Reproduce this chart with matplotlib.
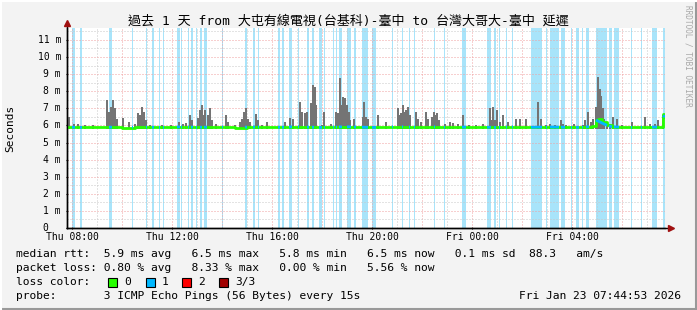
import numpy as np
import matplotlib
matplotlib.use("Agg")
import matplotlib.pyplot as plt

# hours since Thu 00:00
band_start = [8.00, 8.32, 9.48, 10.40, 10.96, 11.20, 11.48, 11.64, 12.20, 12.36, 12.64, 12.76,
              12.96, 13.12, 13.28, 14.00, 14.92, 15.24, 15.44, 16.24, 16.40, 16.68, 17.04, 17.40,
              17.60, 17.88, 18.08, 18.44, 18.56, 18.68, 19.00, 19.28, 19.60, 20.00, 20.80, 21.20,
              21.48, 21.68, 22.48, 22.88, 23.60, 24.60, 24.88, 25.08, 25.36, 25.60, 26.36, 26.96,
              27.12, 27.56, 27.96, 28.16, 28.40, 28.56, 28.96, 29.48, 29.68, 30.36, 30.76, 31.20,
              31.64]
band_end = [8.12, 8.40, 9.60, 10.44, 11.00, 11.28, 11.52, 11.68, 12.32, 12.40, 12.68, 12.84,
            13.00, 13.20, 13.40, 14.04, 15.00, 15.32, 15.48, 16.32, 16.48, 16.80, 17.08, 17.48,
            17.68, 18.00, 18.12, 18.48, 18.60, 18.80, 19.16, 19.36, 19.84, 20.16, 20.84, 21.24,
            21.52, 21.72, 22.52, 22.92, 23.76, 24.76, 24.96, 25.12, 25.40, 25.64, 26.80, 27.00,
            27.48, 27.72, 28.00, 28.28, 28.44, 28.68, 29.40, 29.60, 29.88, 30.40, 30.80, 31.40,
            31.72]

smoke_hours = [7.88, 8.08, 8.24, 8.52, 8.84, 9.40, 9.48, 9.56, 9.64, 9.72, 9.80, 10.04, 10.28,
               10.52, 10.64, 10.72, 10.80, 10.88, 10.96, 11.12, 11.60,
               11.96, 12.28, 12.44, 12.56, 12.72, 12.80, 13.04, 13.12, 13.20, 13.24, 13.32, 13.44,
               13.52, 13.60, 13.76, 14.16, 14.24, 14.52, 14.72, 14.80, 14.88, 14.96, 15.04, 15.12,
               15.36, 15.44, 15.60,
               15.80, 16.52, 16.72, 16.84, 17.12, 17.20, 17.32, 17.40, 17.56, 17.64, 17.72, 17.76,
               18.00, 18.08, 18.36, 18.56, 18.64, 18.72, 18.76, 18.84, 18.92, 19.00, 19.08, 19.12,
               19.28, 19.64,
               19.68, 19.76, 19.84, 20.24, 20.56, 21.04, 21.12, 21.16, 21.24, 21.32, 21.36, 21.44,
               21.52, 21.76, 21.84, 21.96, 22.16, 22.24, 22.40, 22.48, 22.56, 22.60, 22.68, 22.92,
               23.12, 23.24, 23.44, 23.64,
               23.88, 24.16, 24.44, 24.72, 24.76, 24.84, 24.92, 25.00, 25.12, 25.24, 25.44, 25.76,
               25.92, 26.16, 26.64, 26.76, 26.96, 27.12, 27.32, 27.56, 27.64,
               27.76, 28.08, 28.44, 28.52, 28.64, 28.76, 28.84, 28.96, 29.04, 29.12, 29.16, 29.24,
               29.28, 29.40, 29.52, 29.64, 29.80, 30.00, 30.40, 30.92, 31.12, 31.32, 31.44, 31.64]
smoke_max = [6.5, 6.1, 6.1, 6.05, 6.05, 7.48, 6.8, 7.1, 7.5, 7.0, 6.4, 6.45, 6.2,
             6.1, 6.7, 6.6, 7.1, 6.8, 6.3, 6.05, 6.05,
             6.0, 6.2, 6.1, 6.15, 6.6, 6.3, 6.45, 6.9, 7.2, 6.6, 6.9, 6.6,
             7.0, 6.3, 6.1, 6.6, 6.2, 6.05, 6.2, 6.4, 6.8, 7.0, 6.4, 6.2,
             6.65, 6.3, 6.05,
             6.2, 6.2, 6.45, 6.35, 7.38, 6.8, 6.75, 6.8, 7.3, 8.35, 8.25, 7.2,
             6.0, 6.8, 6.1, 6.8, 6.7, 8.75, 7.2, 7.67, 7.6, 7.2, 6.8, 6.3,
             6.4, 6.5,
             7.38, 6.5, 6.4, 6.6, 6.2, 7.0, 6.6, 6.7, 7.2, 6.8, 6.9, 7.1,
             6.6, 6.8, 6.4, 6.2, 6.8, 6.4, 6.5, 6.8, 6.6, 6.7, 6.3, 6.1,
             6.2, 6.15, 6.1, 6.6,
             6.05, 6.0, 6.1, 7.0, 6.3, 7.1, 6.3, 6.9, 6.2, 6.6, 6.2, 6.4,
             6.4, 6.4, 7.38, 6.4, 6.05, 6.1, 6.0, 6.3, 6.1,
             6.0, 6.1, 6.0, 6.3, 6.8, 6.2, 6.4, 7.1, 8.85, 8.1, 7.7, 7.0,
             6.4, 6.2, 6.1, 6.5, 6.4, 6.05, 6.2, 6.5, 6.1, 6.1, 6.3, 6.6]

med_hours = [7.8, 8.5, 9.0, 9.5, 10.0, 10.5, 11.0, 11.5, 12.0, 12.5, 13.0, 13.5, 14.0, 14.5,
             15.0, 15.5, 16.0, 16.5, 17.0, 17.5, 18.0, 18.5, 19.0, 19.5, 20.0, 20.5, 21.0, 21.5,
             22.0, 22.5, 23.0, 23.5, 24.0, 24.5, 25.0, 25.5, 26.0, 26.5, 27.0, 27.5, 28.0, 28.5,
             28.8, 28.95, 29.05, 29.2, 29.4, 29.6, 30.0, 30.5, 31.0, 31.5, 31.62, 31.66]
med_ms = [5.90, 5.88, 5.92, 5.90, 5.87, 5.90, 5.91, 5.88, 5.90, 5.92, 5.89, 5.90, 5.91, 5.87,
          5.90, 5.92, 5.89, 5.90, 5.93, 5.90, 5.88, 5.91, 5.92, 5.90, 5.88, 5.90, 5.93, 5.91,
          5.90, 5.92, 5.89, 5.90, 5.91, 5.90, 5.88, 5.92, 5.90, 5.89, 5.91, 5.90, 5.88, 5.90,
          5.95, 6.30, 6.40, 6.20, 6.00, 5.92, 5.90, 5.89, 5.91, 5.90, 6.65, 6.50]

tick_hours = [8, 12, 16, 20, 24, 28]
tick_labels = ["Thu 08:00", "Thu 12:00", "Thu 16:00", "Thu 20:00", "Fri 00:00", "Fri 04:00"]
loss_names = ["0", "1", "2", "3/3"]
loss_colors = ["#26ff00", "#00b8ff", "#ff0000", "#a10000"]

legend_lines = [
    "median rtt:  5.9 ms avg   6.5 ms max   5.8 ms min   6.5 ms now   0.1 ms sd  88.3   am/s",
    "packet loss: 0.80 % avg   8.33 % max   0.00 % min   5.56 % now",
    "loss color:",
    "probe:       3 ICMP Echo Pings (56 Bytes) every 15s",
]
stamp = "Fri Jan 23 07:44:53 2026"

mono = "DejaVu Sans Mono"
W, H = 697, 310
fig = plt.figure(figsize=(W / 100, H / 100), dpi=100, facecolor="#f3f3f3")
x0, x1 = 7.8, 7.8 + 598 / 25
ax = fig.add_axes([67 / W, 82 / H, 598 / W, 200 / H])
ax.set_xlim(x0, x1)
ax.set_ylim(0, 200 / 17.1)
ax.set_facecolor("white")

# loss background bands
for s, e in zip(band_start, band_end):
    ax.axvspan(s, e, color="#a8e4fa", lw=0, zorder=1)

# grid
for h in range(8, 32):
    c = "#f0a0a0" if h % 2 == 0 else "#c8c8c8"
    ax.axvline(h, color=c, lw=0.72, ls=(0, (1, 2)), zorder=2)
for v in np.arange(0.5, 11.6, 0.5):
    c = "#f0a0a0" if v == int(v) else "#c8c8c8"
    ax.axhline(v, color=c, lw=0.72, ls=(0, (1, 2)), zorder=2)

# smoke
sm = np.array(smoke_max)
ax.bar(smoke_hours, sm - 5.8, bottom=5.8, width=0.08, color="#747474", lw=0, zorder=3)

# median line coloured by loss
ax.plot(med_hours, med_ms, drawstyle="steps-post", color=loss_colors[0], lw=2, zorder=4)
for s, e in zip(band_start, band_end):
    a = np.interp(s, med_hours, med_ms)
    b = np.interp(e, med_hours, med_ms)
    ax.plot([s, e], [a, b], color=loss_colors[1], lw=2, zorder=5, solid_capstyle="butt")

for sp in ["top", "right"]:
    ax.spines[sp].set_visible(False)
ax.spines["left"].set_linewidth(1)
ax.spines["bottom"].set_linewidth(1)
ax.plot([x0, x0], [0, 11.9], color="black", lw=1, clip_on=False, zorder=6)
ax.plot([x0, x1 + 0.2], [0, 0], color="black", lw=1, clip_on=False, zorder=6)
ax.plot([x0], [12.0], marker="^", color="#a01010", ms=5, clip_on=False, zorder=7)
ax.plot([x1 + 0.25], [0], marker=">", color="#a01010", ms=5, clip_on=False, zorder=7)

ax.set_xticks(tick_hours)
ax.set_xticklabels(tick_labels, fontfamily=mono, fontsize=7)
ax.set_yticks(range(0, 12))
ax.set_yticklabels([])
ax.tick_params(axis="both", length=2, width=0.8, direction="inout", pad=2)
for v in range(0, 12):
    lbl = "0" if v == 0 else f"{v} m"
    xp = 48 if v == 0 else 61
    ax.text((xp - 67) / 598, v, lbl, transform=ax.get_yaxis_transform(), ha="right",
            va="center", fontfamily=mono, fontsize=7)

# texts
fig.text(348 / W, 1 - 21 / H, "過去 1 天 from 大屯有線電視(台基科)-臺中 to 台灣大哥大-臺中 延遲",
         ha="center", va="center", fontsize=9.4, family=[mono, "Noto Sans CJK TC"])
fig.text(10 / W, 1 - 128 / H, "Seconds", rotation=90, ha="center", va="center",
         fontfamily=mono, fontsize=8)
fig.text(688 / W, 1 - 5 / H, "RRDTOOL / TOBI OETIKER", rotation=-90, ha="center", va="top",
         fontfamily=mono, fontsize=5.6, color="#a8a8a8")

for y, t in zip([254, 268, 282, 296], legend_lines):
    fig.text(16 / W, 1 - y / H, t, ha="left", va="center", fontfamily=mono, fontsize=8.1)

sq_x = [108, 146, 182, 219]
for xp, c, n in zip(sq_x, loss_colors, loss_names):
    fig.patches.append(plt.Rectangle((xp / W, 1 - 287 / H), 9 / W, 9 / H, transform=fig.transFigure,
                                     facecolor=c, edgecolor="black", lw=0.8))
    fig.text((xp + 16) / W, 1 - 282 / H, n, ha="left", va="center", fontfamily=mono, fontsize=8.1)
fig.text(681 / W, 1 - 296 / H, stamp, ha="right", va="center", fontfamily=mono, fontsize=8.1)

# frame
fig.lines.append(plt.Line2D([1 - 1 / W, 1 - 1 / W], [0, 1], transform=fig.transFigure,
                            color="#999999", lw=1.5))
fig.lines.append(plt.Line2D([0, 1], [1 / H, 1 / H], transform=fig.transFigure,
                            color="#999999", lw=1.5))
fig.lines.append(plt.Line2D([1 / W, 1 / W], [0, 1], transform=fig.transFigure,
                            color="#ffffff", lw=1.5))
fig.lines.append(plt.Line2D([0, 1], [1 - 1 / H, 1 - 1 / H], transform=fig.transFigure,
                            color="#ffffff", lw=1.5))

fig.savefig("out.png", dpi=100, facecolor=fig.get_facecolor())
